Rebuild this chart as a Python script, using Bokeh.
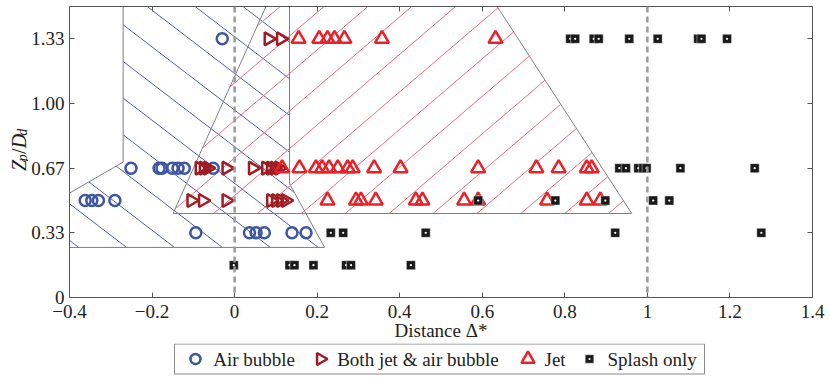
import numpy as np
from bokeh.plotting import figure
from bokeh.layouts import row, column
from bokeh.models import Range1d, LinearAxis, FixedTicker, Span
from bokeh.core.properties import value
from bokeh.embed import file_html
from bokeh.resources import INLINE

# ---------------- data ----------------
X_TICKS = [-0.4, -0.2, 0, 0.2, 0.4, 0.6, 0.8, 1.0, 1.2, 1.4]
X_TICK_LABELS = ["\u22120.4", "\u22120.2", "0", "0.2", "0.4", "0.6", "0.8", "1", "1.2", "1.4"]
Y_TICKS = [0, 1/3, 2/3, 1.0, 4/3]
Y_TICK_LABELS = ["0", "0.33", "0.67", "1.00", "1.33"]

air_x = [-0.030,
         -0.251, -0.183, -0.176, -0.151, -0.137, -0.122, -0.052,
         -0.362, -0.346, -0.330, -0.290,
         -0.094, 0.036, 0.052, 0.072, 0.139, 0.173]
air_y = [4/3,
         2/3, 2/3, 2/3, 2/3, 2/3, 2/3, 2/3,
         1/2, 1/2, 1/2, 1/2,
         1/3, 1/3, 1/3, 1/3, 1/3, 1/3]

both_x = [0.082, 0.112,
          -0.085, -0.075, -0.065, -0.020, 0.044, 0.076, 0.088, 0.097, 0.108,
          -0.105, -0.077, -0.020, 0.088, 0.100, 0.112, 0.124]
both_y = [4/3, 4/3,
          2/3, 2/3, 2/3, 2/3, 2/3, 2/3, 2/3, 2/3, 2/3,
          1/2, 1/2, 1/2, 1/2, 1/2, 1/2, 1/2]

jet_x = [0.155, 0.205, 0.225, 0.242, 0.266, 0.357, 0.632,
         0.115, 0.157, 0.197, 0.212, 0.229, 0.250, 0.274, 0.286, 0.338, 0.402,
         0.590, 0.731, 0.785, 0.853, 0.865,
         0.225, 0.294, 0.306, 0.342, 0.439, 0.455, 0.556, 0.590, 0.757, 0.853, 0.886]
jet_y = [4/3] * 7 + [2/3] * 15 + [1/2] * 11

splash_x = [0.813, 0.825, 0.870, 0.882, 0.956, 1.025, 1.123, 1.131, 1.193,
            0.932, 0.948, 0.978, 0.990, 0.998, 1.080, 1.260,
            0.590, 0.777, 0.898, 1.014, 1.053,
            0.233, 0.263, 0.463, 0.922, 1.276,
            -0.002, 0.133, 0.145, 0.191, 0.270, 0.282, 0.427]
splash_y = [4/3] * 9 + [2/3] * 7 + [1/2] * 5 + [1/3] * 5 + [1/6] * 7

LEGEND_LABELS = ["Air bubble", "Both jet & air bubble", "Jet", "Splash only"]

# regime regions (boundaries)
AIR_REGION_X = [-0.27, 0.133, 0.133, 0.218, -0.40, -0.40, -0.27]
AIR_REGION_Y = [1.50, 1.50, 0.587, 0.258, 0.258, 0.538, 0.698]
JET_REGION_X = [0.076, 0.636, 0.962, -0.149]
JET_REGION_Y = [1.50, 1.50, 0.433, 0.433]
DASH_X = [0.0, 1.0]

# ---------------- helpers ----------------
def hatch_segments(px, py, slope, c0, step):
    n = len(px)
    f = [py[i] - slope * px[i] for i in range(n)]
    k0 = int(np.floor((min(f) - c0) / step))
    k1 = int(np.ceil((max(f) - c0) / step))
    xs, ys = [], []
    for k in range(k0, k1 + 1):
        c = c0 + k * step
        hits = []
        for i in range(n):
            j = (i + 1) % n
            a = f[i] - c
            b = f[j] - c
            if (a < 0) != (b < 0):
                t = a / (a - b)
                hits.append(px[i] + t * (px[j] - px[i]))
        hits.sort()
        for h0, h1 in zip(hits[0::2], hits[1::2]):
            xs.append([h0, h1])
            ys.append([slope * h0 + c, slope * h1 + c])
    return xs, ys

FONT = "Liberation Serif"
TXT = "#222222"
AX = "#555555"
C_AIR, C_BOTH, C_JET, C_SPL = "#3c55a5", "#a01c22", "#ec2027", "#1a1a1a"

W_LAB = 28
H_MAIN = 343
H_LEG = 380 - H_MAIN

p = figure(width=830 - W_LAB, height=H_MAIN,
           x_range=Range1d(-0.4, 1.4), y_range=Range1d(0, 1.5),
           output_backend="svg", toolbar_location=None,
           min_border_left=66 - W_LAB, min_border_right=18, min_border_top=6,
           min_border_bottom=0)
p.grid.visible = False
p.outline_line_color = None

# hatching
bx, by = hatch_segments(AIR_REGION_X, AIR_REGION_Y, -1.628, -0.357, 0.189)
p.multi_line(bx, by, line_color="#4f5fb0", line_width=1)
rx, ry = hatch_segments(JET_REGION_X, JET_REGION_Y, 1.82, 0.332, 0.1935)
p.multi_line(rx, ry, line_color="#f26d7d", line_width=1)

p.patch(AIR_REGION_X, AIR_REGION_Y, fill_color=None, line_color="#808080", line_width=1)
p.patch(JET_REGION_X, JET_REGION_Y, fill_color=None, line_color="#808080", line_width=1)

for xv in DASH_X:
    p.add_layout(Span(location=xv, dimension="height", line_color="#9a9a9a",
                      line_dash="6 4", line_width=2.5))

MK = dict(
    air=dict(marker="circle", size=11, fill_color=None, line_color=C_AIR, line_width=2.5),
    both=dict(marker="triangle", size=13, angle=-np.pi / 2, fill_color=None,
              line_color=C_BOTH, line_width=2.5),
    jet=dict(marker="triangle", size=14, fill_color=None, line_color=C_JET, line_width=2.5),
    spl=dict(marker="square_dot", size=9, fill_color=C_SPL, line_color="white", line_width=0.4),
)
p.scatter(air_x, air_y, **MK["air"])
p.scatter(both_x, both_y, **MK["both"])
p.scatter(jet_x, jet_y, **MK["jet"])
p.scatter(splash_x, splash_y, **MK["spl"])

# axes
for ax in (p.xaxis[0], p.yaxis[0]):
    ax.major_tick_in = 5
    ax.major_tick_out = 0
    ax.minor_tick_out = 0
    ax.minor_tick_in = 0
    ax.minor_tick_line_color = None
    ax.axis_line_color = AX
    ax.major_tick_line_color = AX
    ax.major_label_text_font = FONT
    ax.major_label_text_font_size = "19px"
    ax.major_label_text_color = TXT

p.xaxis[0].ticker = FixedTicker(ticks=X_TICKS)
p.xaxis[0].major_label_overrides = dict(zip(X_TICKS, X_TICK_LABELS))
p.xaxis[0].major_label_standoff = 7
p.xaxis[0].axis_label = "Distance \u0394*"
p.xaxis[0].axis_label_text_font = FONT
p.xaxis[0].axis_label_text_font_size = "19px"
p.xaxis[0].axis_label_text_font_style = "normal"
p.xaxis[0].axis_label_text_color = TXT
p.xaxis[0].axis_label_text_line_height = 0.8
p.xaxis[0].axis_label_standoff = -1

p.yaxis[0].ticker = FixedTicker(ticks=Y_TICKS)
p.yaxis[0].major_label_overrides = dict(zip(Y_TICKS, Y_TICK_LABELS))
p.yaxis[0].major_label_standoff = 5

for side, ticks in (("above", X_TICKS), ("right", Y_TICKS)):
    p.add_layout(LinearAxis(ticker=FixedTicker(ticks=ticks),
                            major_label_text_font_size="1px",
                            major_label_text_color=None, major_label_standoff=0,
                            major_tick_in=5, major_tick_out=0,
                            minor_tick_in=0, minor_tick_out=0,
                            minor_tick_line_color=None, axis_line_color=AX,
                            major_tick_line_color=AX), side)

# ---- y axis title (Z_p / D_d), drawn in a narrow strip at the left ----
ylab = figure(width=W_LAB, height=H_MAIN, x_range=Range1d(0, W_LAB),
              y_range=Range1d(0, H_MAIN), x_axis_type=None, y_axis_type=None,
              min_border=0, toolbar_location=None, output_backend="svg",
              outline_line_color=None)
ylab.grid.visible = False
ylab.text(x=[18, 18], y=[H_MAIN - 194, H_MAIN - 167], text=["Z", "D"],
          angle=np.pi / 2, text_font=value(FONT), text_font_style="italic",
          text_font_size="20px", text_color=TXT, text_baseline="alphabetic",
          text_align="left")
ylab.text(x=[18], y=[H_MAIN - 174], text=["/"],
          angle=np.pi / 2, text_font=value(FONT), text_font_style="normal",
          text_font_size="20px", text_color=TXT, text_baseline="alphabetic",
          text_align="left")
ylab.text(x=[21.5, 21.5], y=[H_MAIN - 182.5, H_MAIN - 152.4], text=["p", "d"],
          angle=np.pi / 2, text_font=value(FONT), text_font_style="italic",
          text_font_size="14px", text_color=TXT, text_baseline="alphabetic",
          text_align="left")

# ---- legend strip below ----
lg = figure(width=830, height=H_LEG, x_range=Range1d(0, 830), y_range=Range1d(0, H_LEG),
            x_axis_type=None, y_axis_type=None, min_border=0, toolbar_location=None,
            output_backend="svg", outline_line_color=None)
lg.grid.visible = False
ymid = 380 - 358.5
lg.quad(left=[174], right=[704], bottom=[ymid - 15], top=[ymid + 15],
        fill_color="white", line_color="#888888", line_width=1)
key_x = [195, 320, 527.5, 589]
lab_x = [212.7, 336.7, 544, 607]
leg_mk = [dict(MK["air"], size=10), dict(MK["both"], size=12),
          dict(MK["jet"], size=13), dict(MK["spl"], size=8.5)]
for kx, m in zip(key_x, leg_mk):
    lg.scatter([kx], [ymid], **m)
lg.text(x=lab_x, y=[ymid] * 4, text=LEGEND_LABELS, text_font=value(FONT),
        text_font_size="19px", text_color=TXT, text_baseline="middle",
        text_align="left")

layout = column(row(ylab, p, spacing=0), lg, spacing=0)
open("out.html", "w").write(file_html(layout, INLINE))
